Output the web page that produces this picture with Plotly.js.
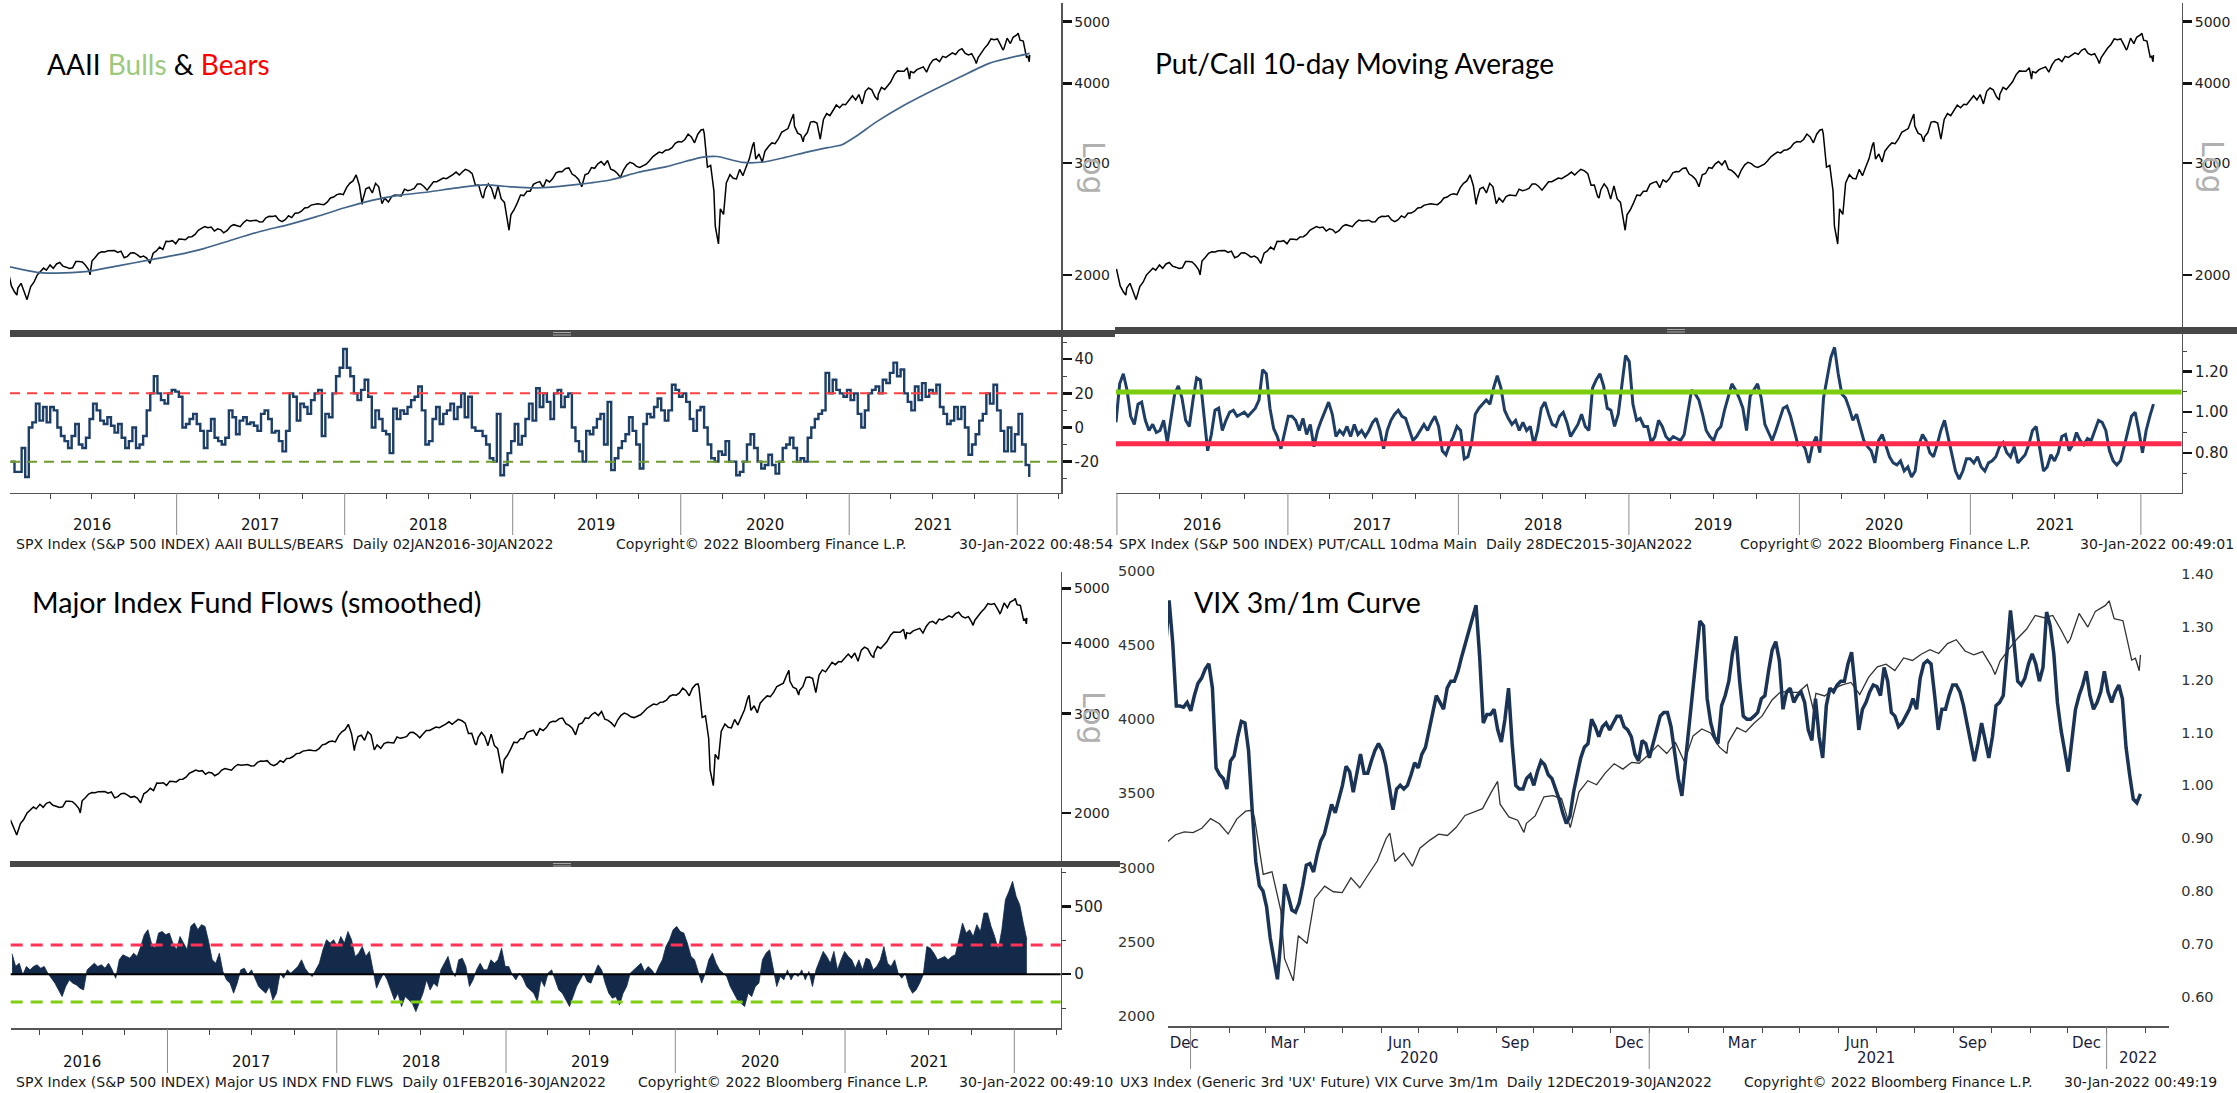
<!DOCTYPE html>
<html><head><meta charset="utf-8">
<script src="https://cdn.plot.ly/plotly-3.0.1.min.js"></script>
<style>html,body{margin:0;padding:0;background:#fff}#chart{width:2237px;height:1093px}</style>
</head><body><div id="chart"></div>
<script>
// ---------- DATA ----------
const spxDates = [
'2015-12-31','2016-01-08','2016-01-15','2016-01-20','2016-01-22','2016-01-29','2016-02-05','2016-02-11','2016-02-19','2016-02-26','2016-03-04','2016-03-11','2016-03-18','2016-03-24','2016-04-01','2016-04-08','2016-04-15','2016-04-22','2016-04-29','2016-05-06','2016-05-13','2016-05-20','2016-05-27','2016-06-03','2016-06-10','2016-06-17','2016-06-24','2016-06-27','2016-07-01','2016-07-08','2016-07-15','2016-07-22','2016-07-29','2016-08-05','2016-08-12','2016-08-19','2016-08-26','2016-09-02','2016-09-09','2016-09-16','2016-09-23','2016-09-30','2016-10-07','2016-10-14','2016-10-21','2016-10-28','2016-11-04','2016-11-11','2016-11-18','2016-11-25','2016-12-02','2016-12-09','2016-12-16','2016-12-23','2016-12-30',
'2017-01-06','2017-01-13','2017-01-20','2017-01-27','2017-02-03','2017-02-10','2017-02-17','2017-02-24','2017-03-03','2017-03-10','2017-03-17','2017-03-24','2017-03-31','2017-04-07','2017-04-13','2017-04-21','2017-04-28','2017-05-05','2017-05-12','2017-05-19','2017-05-26','2017-06-02','2017-06-09','2017-06-16','2017-06-23','2017-06-30','2017-07-07','2017-07-14','2017-07-21','2017-07-28','2017-08-04','2017-08-11','2017-08-18','2017-08-25','2017-09-01','2017-09-08','2017-09-15','2017-09-22','2017-09-29','2017-10-06','2017-10-13','2017-10-20','2017-10-27','2017-11-03','2017-11-10','2017-11-17','2017-11-24','2017-12-01','2017-12-08','2017-12-15','2017-12-22','2017-12-29',
'2018-01-05','2018-01-12','2018-01-19','2018-01-26','2018-02-02','2018-02-08','2018-02-09','2018-02-16','2018-02-23','2018-03-02','2018-03-09','2018-03-16','2018-03-23','2018-03-29','2018-04-06','2018-04-13','2018-04-20','2018-04-27','2018-05-04','2018-05-11','2018-05-18','2018-05-25','2018-06-01','2018-06-08','2018-06-15','2018-06-22','2018-06-29','2018-07-06','2018-07-13','2018-07-20','2018-07-27','2018-08-03','2018-08-10','2018-08-17','2018-08-24','2018-08-31','2018-09-07','2018-09-14','2018-09-20','2018-09-28','2018-10-05','2018-10-12','2018-10-19','2018-10-26','2018-10-29','2018-11-02','2018-11-09','2018-11-16','2018-11-23','2018-11-30','2018-12-07','2018-12-14','2018-12-21','2018-12-24','2018-12-28',
'2019-01-04','2019-01-11','2019-01-18','2019-01-25','2019-02-01','2019-02-08','2019-02-15','2019-02-22','2019-03-01','2019-03-08','2019-03-15','2019-03-22','2019-03-29','2019-04-05','2019-04-12','2019-04-18','2019-04-26','2019-05-03','2019-05-10','2019-05-17','2019-05-24','2019-05-31','2019-06-07','2019-06-14','2019-06-21','2019-06-28','2019-07-05','2019-07-12','2019-07-19','2019-07-26','2019-08-02','2019-08-09','2019-08-16','2019-08-23','2019-08-30','2019-09-06','2019-09-13','2019-09-20','2019-09-27','2019-10-04','2019-10-11','2019-10-18','2019-10-25','2019-11-01','2019-11-08','2019-11-15','2019-11-22','2019-11-29','2019-12-06','2019-12-13','2019-12-20','2019-12-27',
'2020-01-03','2020-01-10','2020-01-17','2020-01-24','2020-01-31','2020-02-07','2020-02-14','2020-02-19','2020-02-21','2020-02-28','2020-03-06','2020-03-13','2020-03-16','2020-03-20','2020-03-23','2020-03-27','2020-04-03','2020-04-09','2020-04-17','2020-04-24','2020-05-01','2020-05-08','2020-05-15','2020-05-22','2020-05-29','2020-06-05','2020-06-08','2020-06-12','2020-06-19','2020-06-26','2020-07-02','2020-07-10','2020-07-17','2020-07-24','2020-07-31','2020-08-07','2020-08-14','2020-08-21','2020-08-28','2020-09-02','2020-09-04','2020-09-11','2020-09-18','2020-09-23','2020-09-25','2020-10-02','2020-10-09','2020-10-16','2020-10-23','2020-10-30','2020-11-06','2020-11-13','2020-11-20','2020-11-27','2020-12-04','2020-12-11','2020-12-18','2020-12-24','2020-12-31',
'2021-01-08','2021-01-15','2021-01-22','2021-01-29','2021-02-05','2021-02-12','2021-02-19','2021-02-26','2021-03-04','2021-03-05','2021-03-12','2021-03-19','2021-03-26','2021-04-01','2021-04-09','2021-04-16','2021-04-23','2021-04-30','2021-05-07','2021-05-12','2021-05-14','2021-05-21','2021-05-28','2021-06-04','2021-06-11','2021-06-18','2021-06-25','2021-07-02','2021-07-09','2021-07-16','2021-07-23','2021-07-30','2021-08-06','2021-08-13','2021-08-20','2021-08-27','2021-09-03','2021-09-10','2021-09-17','2021-09-24','2021-10-01','2021-10-04','2021-10-08','2021-10-15','2021-10-22','2021-10-29','2021-11-05','2021-11-12','2021-11-19','2021-11-26','2021-12-01','2021-12-03','2021-12-10','2021-12-17','2021-12-23','2021-12-31',
'2022-01-03','2022-01-07','2022-01-14','2022-01-21','2022-01-24','2022-01-27','2022-01-28'];
const spxClose = [
2044,1922,1880,1859,1907,1940,1880,1829,1917,1948,1999,2022,2050,2035,2073,2048,2081,2092,2065,2057,2047,2052,2099,2099,2096,2071,2037,2001,2103,2130,2162,2175,2174,2183,2184,2184,2169,2180,2128,2139,2165,2168,2153,2133,2141,2126,2085,2164,2182,2213,2192,2260,2258,2264,2239,
2277,2275,2271,2295,2297,2316,2351,2367,2383,2373,2378,2344,2363,2355,2329,2349,2384,2399,2391,2382,2416,2439,2432,2433,2438,2423,2425,2459,2473,2472,2477,2441,2426,2443,2477,2461,2500,2502,2519,2549,2553,2575,2581,2588,2582,2579,2602,2642,2651,2675,2683,2674,
2743,2786,2810,2873,2762,2581,2620,2732,2747,2691,2786,2752,2588,2641,2604,2656,2670,2670,2663,2728,2713,2721,2735,2779,2780,2755,2718,2760,2801,2802,2819,2840,2833,2850,2875,2902,2872,2905,2931,2914,2886,2767,2768,2658,2641,2723,2781,2736,2633,2760,2633,2600,2417,2351,2486,
2532,2596,2671,2665,2707,2708,2776,2793,2804,2743,2822,2800,2834,2893,2907,2905,2940,2946,2881,2860,2826,2752,2873,2887,2950,2942,2990,3014,2977,3026,2932,2919,2889,2847,2926,2979,3007,2992,2962,2952,2970,2986,3023,3067,3093,3120,3110,3141,3146,3169,3221,3240,
3235,3265,3330,3295,3226,3328,3380,3386,3338,2954,2972,2711,2386,2305,2237,2541,2489,2790,2875,2837,2831,2930,2864,2955,3044,3194,3232,3041,3098,3009,3130,3185,3225,3216,3271,3351,3373,3397,3508,3580,3427,3341,3319,3237,3298,3348,3477,3484,3465,3270,3510,3585,3558,3638,3699,3663,3709,3703,3756,
3825,3768,3841,3714,3887,3934,3907,3811,3768,3842,3943,3913,3975,4020,4129,4185,4180,4181,4233,4063,4174,4156,4204,4230,4247,4166,4281,4352,4370,4327,4412,4395,4437,4468,4442,4509,4535,4459,4433,4455,4357,4300,4391,4471,4545,4605,4698,4683,4698,4595,4513,4538,4712,4620,4726,4766,
4797,4677,4663,4398,4410,4326,4432];

const maDates = ['2016-01-04','2016-02-15','2016-03-15','2016-05-01','2016-06-30','2016-09-01','2016-11-01','2017-01-01','2017-03-01','2017-05-01','2017-07-01','2017-09-01','2017-11-01','2018-01-01','2018-03-01','2018-05-01','2018-07-01','2018-09-01','2018-11-01','2018-12-31','2019-02-15','2019-04-01','2019-06-01','2019-08-01','2019-10-01','2019-12-01','2020-02-15','2020-03-20','2020-05-15','2020-06-30','2020-08-15','2020-10-01','2020-11-15','2020-12-15','2021-01-15','2021-03-01','2021-05-01','2021-07-01','2021-09-01','2021-11-01','2022-01-28'];
const maValues = [2060,2030,2015,2015,2030,2070,2110,2150,2200,2270,2340,2400,2470,2550,2620,2670,2700,2740,2770,2750,2740,2750,2780,2820,2900,2960,3060,3070,3005,3010,3060,3120,3170,3200,3300,3480,3700,3900,4100,4300,4460];

const aaiiStart = '2016-01-07', aaiiEnd = '2022-01-27';
const aaiiSpread = [-20,-26,-26,-12,-29,0,3,14,4,12,3,12,10,0,-5,-8,-12,-5,2,-10,-12,-6,5,14,10,4,2,6,1,-3,2,-6,-12,-8,0,-12,-10,-5,10,20,30,20,16,14,20,22,21,18,0,2,5,8,2,-2,-12,-2,5,-6,-8,-10,-6,10,6,-4,4,6,2,3,1,-2,8,10,5,-3,-2,-8,-14,-2,20,18,4,14,12,8,16,20,22,-5,8,6,20,30,35,46,35,30,20,16,22,28,18,0,10,5,-2,-4,-15,11,5,10,8,12,16,18,24,10,-10,-8,5,12,2,8,10,14,5,12,20,6,18,0,-2,-2,-5,-10,-18,-20,8,-28,-22,-15,-8,2,-10,-5,5,14,4,23,12,20,15,5,20,22,12,18,20,0,-8,-14,-20,-2,-4,0,5,8,-10,15,-25,-18,-12,-8,-4,6,-2,-10,-24,2,8,6,12,17,10,4,10,25,22,18,20,15,5,-2,10,12,0,-10,-18,-20,-14,-16,-8,-20,-20,-28,-26,-20,-10,-4,-12,-20,-24,-22,-16,-22,-27,-20,-12,-10,-6,-12,-20,-18,-20,-6,0,5,8,10,32,20,28,22,20,18,22,16,20,8,0,10,20,22,24,20,28,26,32,38,30,34,20,15,10,24,16,26,18,22,20,25,12,8,2,4,12,5,12,0,-16,-10,-4,4,8,20,14,25,10,-2,-14,0,-14,-4,8,-10,-22,-29];
const aaiiUpper = 20, aaiiLower = -20;

const pcStart = '2015-12-30', pcEnd = '2022-01-28';
const putCall10d = [0.95,1.14,1.19,1.11,0.98,0.94,1.04,1.05,0.96,0.91,0.94,0.90,0.91,0.96,0.85,0.98,1.09,1.13,1.07,0.96,0.93,1.06,1.17,1.16,0.98,0.81,0.89,1.01,1.02,0.91,0.96,1.00,1.01,0.98,0.99,1.00,0.98,1.00,1.02,1.06,1.21,1.19,1.02,0.92,0.88,0.82,0.90,0.98,0.98,0.96,0.91,0.97,0.89,0.94,0.83,0.91,0.96,1.01,1.05,0.99,0.88,0.91,0.89,0.93,0.88,0.94,0.89,0.91,0.88,0.91,0.95,0.97,0.91,0.82,0.91,0.96,0.99,1.01,0.98,0.97,0.91,0.86,0.88,0.91,0.94,0.91,0.95,0.98,0.93,0.81,0.79,0.84,0.88,0.93,0.91,0.77,0.78,0.85,0.99,1.02,1.04,1.06,1.04,1.12,1.18,1.12,1.01,0.97,0.94,0.96,0.91,0.95,0.91,0.93,0.84,0.91,1.02,1.05,0.99,0.94,0.93,0.98,1.00,0.95,0.88,0.91,0.94,0.99,0.93,0.91,1.12,1.16,1.19,1.13,1.02,1.01,0.93,0.99,1.13,1.28,1.25,1.04,0.96,0.97,0.93,0.93,0.85,0.88,0.96,0.93,0.88,0.86,0.88,0.87,0.86,0.89,0.99,1.11,1.09,1.06,0.99,0.91,0.88,0.86,0.91,0.93,1.01,1.07,1.14,1.11,1.07,1.02,0.91,1.08,1.11,1.14,1.07,0.94,0.90,0.86,0.91,0.96,1.02,1.03,0.98,0.91,0.84,0.85,0.82,0.75,0.84,0.88,0.80,1.07,1.17,1.27,1.32,1.19,1.09,1.07,1.02,0.96,0.99,0.93,0.86,0.83,0.81,0.75,0.86,0.89,0.84,0.78,0.75,0.74,0.76,0.71,0.73,0.68,0.71,0.84,0.89,0.86,0.80,0.78,0.84,0.91,0.96,0.88,0.80,0.71,0.67,0.71,0.77,0.77,0.75,0.78,0.73,0.71,0.75,0.76,0.78,0.83,0.85,0.80,0.78,0.83,0.75,0.77,0.79,0.84,0.91,0.93,0.81,0.71,0.73,0.79,0.76,0.80,0.88,0.89,0.81,0.84,0.90,0.86,0.84,0.87,0.86,0.91,0.96,0.95,0.91,0.81,0.76,0.74,0.76,0.83,0.91,0.98,1.00,0.91,0.80,0.91,0.98,1.04];
const pcUpper = 1.10, pcLower = 0.845;

const flowStart = '2016-02-01', flowEnd = '2022-01-28';
const fundFlows = [150,57,81,-5,57,32,57,69,44,57,7,-30,-66,-116,-165,-91,-42,-66,-79,-103,-116,32,57,81,57,69,44,81,32,-30,106,143,131,118,155,131,204,291,328,229,192,303,315,291,303,229,180,278,229,180,352,377,328,365,352,241,106,81,155,20,-42,-66,-140,-66,32,44,-5,32,-30,-91,-116,-140,-91,-190,-140,7,-30,32,7,32,57,106,44,7,-17,32,81,180,254,229,254,204,278,229,315,254,131,155,204,131,168,32,-103,-42,7,-42,-116,-190,-140,-239,-165,-190,-214,-276,-214,-140,-42,-116,-66,-91,32,81,131,32,-17,106,118,57,-91,-42,32,81,32,32,106,81,106,192,57,57,-5,-42,7,-30,-91,-116,-140,-202,-42,-91,7,32,-42,-116,-140,-190,-239,-165,-91,-42,7,-54,-66,7,69,32,-66,-140,-177,-165,-227,-140,-91,7,32,57,81,20,57,32,-5,57,106,204,254,328,352,315,303,229,131,106,20,-66,7,106,155,81,32,7,-17,-91,-140,-190,-214,-239,-140,-165,-91,-66,106,155,180,32,-91,-17,-42,32,-42,7,-17,32,-42,20,-91,32,106,168,131,81,168,32,106,168,131,106,44,106,32,118,106,32,57,106,204,81,57,106,7,-30,7,-91,-140,-116,-66,-5,204,192,155,106,118,131,106,131,143,254,377,303,328,278,365,315,451,451,352,278,180,328,549,611,685,574,512,377,254];
const flowUpper = 215, flowLower = -205;

const vixStart = '2019-12-12', vixEnd = '2022-01-28';
const vixCurve = [1.26,1.35,1.27,1.15,1.15,1.148,1.157,1.141,1.17,1.193,1.203,1.22,1.23,1.184,1.033,1.02,1.013,0.993,1.046,1.056,1.092,1.121,1.118,1.066,0.954,0.856,0.81,0.8,0.77,0.711,0.672,0.633,0.711,0.813,0.79,0.764,0.76,0.777,0.81,0.849,0.852,0.836,0.869,0.895,0.908,0.934,0.964,0.948,0.974,1.0,1.036,1.026,0.987,1.026,1.059,1.023,1.023,1.046,1.066,1.079,1.066,1.039,1.0,0.954,0.993,1.0,0.993,1.0,1.02,1.043,1.033,1.059,1.072,1.105,1.144,1.17,1.157,1.144,1.184,1.197,1.197,1.216,1.243,1.269,1.295,1.315,1.341,1.243,1.118,1.134,1.134,1.144,1.105,1.082,1.125,1.184,1.079,1.0,0.993,0.993,1.013,1.02,1.0,1.026,1.046,1.039,1.02,1.013,0.993,0.974,0.948,0.928,0.941,0.987,1.02,1.052,1.072,1.079,1.125,1.111,1.092,1.111,1.118,1.105,1.118,1.131,1.131,1.111,1.105,1.092,1.059,1.046,1.085,1.079,1.052,1.079,1.105,1.131,1.138,1.138,1.111,1.059,1.013,0.98,1.046,1.105,1.184,1.249,1.311,1.302,1.164,1.118,1.092,1.079,1.151,1.17,1.197,1.249,1.282,1.197,1.131,1.125,1.125,1.131,1.138,1.164,1.17,1.216,1.256,1.272,1.236,1.144,1.177,1.184,1.157,1.17,1.177,1.157,1.105,1.085,1.164,1.092,1.052,1.151,1.184,1.177,1.19,1.197,1.197,1.23,1.252,1.184,1.105,1.144,1.157,1.177,1.19,1.187,1.17,1.223,1.197,1.138,1.131,1.111,1.118,1.131,1.144,1.164,1.144,1.203,1.23,1.236,1.23,1.17,1.105,1.144,1.144,1.17,1.19,1.19,1.177,1.151,1.118,1.079,1.046,1.079,1.118,1.085,1.052,1.092,1.151,1.157,1.17,1.249,1.331,1.269,1.197,1.19,1.203,1.23,1.249,1.23,1.197,1.223,1.328,1.302,1.249,1.157,1.105,1.066,1.026,1.085,1.144,1.17,1.19,1.216,1.17,1.144,1.157,1.177,1.216,1.177,1.157,1.177,1.19,1.164,1.072,1.02,0.974,0.967,0.984];

const yearStarts = ['2016-01-01','2017-01-01','2018-01-01','2019-01-01','2020-01-01','2021-01-01','2022-01-01'];
const yearLabelDates = ['2016-07-01','2017-07-01','2018-07-01','2019-07-01','2020-07-01','2021-07-01'];
const yearLabels = ['2016','2017','2018','2019','2020','2021'];
const spxTicks = [2000,3000,4000,5000];
const vixMonthTickVals = ['2019-12-27','2020-03-16','2020-06-16','2020-09-16','2020-12-16','2021-03-16','2021-06-16','2021-09-16','2021-12-16'];
const vixMonthTickText = ['Dec','Mar','Jun','Sep','Dec','Mar','Jun','Sep','Dec'];
const vixYearLabelDates = ['2020-07-01','2021-07-01','2022-01-26'];
const vixYearLabels = ['2020','2021','2022'];
const vixLeftTicks = [2000,2500,3000,3500,4000,4500,5000];
const vixRightTicks = [0.6,0.7,0.8,0.9,1.0,1.1,1.2,1.3,1.4];

// ---------- HELPERS ----------
const W = 2237, H = 1093;
const X = p => p / W;
const Y = p => 1 - p / H;
function evenDates(s, e, n) {
  const a = Date.parse(s + 'T00:00:00Z'), b = Date.parse(e + 'T00:00:00Z'), out = [];
  for (let i = 0; i < n; i++) out.push(new Date(a + (b - a) * i / (n - 1)).toISOString().slice(0, 16).replace('T', ' '));
  return out;
}
const FAM = 'DejaVu Sans, Verdana, sans-serif';
const TICKF = {family: FAM, size: 14, color: '#222'};
const AXC = '#555';

// ---------- TRACES ----------
const spxLine = {type: 'scatter', mode: 'lines', x: spxDates, y: spxClose, line: {color: '#000', width: 1.5}, hoverinfo: 'skip'};
const traces = [
  Object.assign({}, spxLine, {xaxis: 'x', yaxis: 'y'}),
  {type: 'scatter', mode: 'lines', x: maDates, y: maValues, xaxis: 'x', yaxis: 'y', line: {color: '#43658a', width: 1.7, shape: 'spline', smoothing: 0.6}},
  {type: 'scatter', mode: 'lines', x: evenDates(aaiiStart, aaiiEnd, aaiiSpread.length), y: aaiiSpread, xaxis: 'x', yaxis: 'y2', line: {color: '#1d3e66', width: 2.4, shape: 'hv'}},
  Object.assign({}, spxLine, {xaxis: 'x2', yaxis: 'y3'}),
  {type: 'scatter', mode: 'lines', x: evenDates(pcStart, pcEnd, putCall10d.length), y: putCall10d, xaxis: 'x2', yaxis: 'y4', line: {color: '#1f3e66', width: 3}},
  Object.assign({}, spxLine, {xaxis: 'x3', yaxis: 'y5'}),
  {type: 'scatter', mode: 'lines', x: evenDates(flowStart, flowEnd, fundFlows.length), y: fundFlows, xaxis: 'x3', yaxis: 'y6', fill: 'tozeroy', fillcolor: '#132a4a', line: {color: '#132a4a', width: 0.8}},
  {type: 'scatter', mode: 'lines', x: spxDates, y: spxClose, xaxis: 'x4', yaxis: 'y7', line: {color: '#333', width: 1.3}},
  {type: 'scatter', mode: 'lines', x: evenDates(vixStart, vixEnd, vixCurve.length), y: vixCurve, xaxis: 'x4', yaxis: 'y8', line: {color: '#1b3455', width: 3.5}}
];

// ---------- AXES ----------
function yearAxis(dom, range, anchor) {
  return {domain: dom, range: range, type: 'date', anchor: anchor, showline: true, linecolor: AXC, linewidth: 1.5,
    ticks: '', showticklabels: false, showgrid: false, zeroline: false, fixedrange: true,
    minor: {dtick: 'M3', tick0: '2016-01-01', ticks: 'outside', ticklen: 5, tickwidth: 1, tickcolor: '#444', showgrid: false}};
}
function logAxis(dom, anchor) {
  return {domain: dom, type: 'log', range: [3.2145, 3.7284], side: 'right', anchor: anchor, showline: true, linecolor: AXC, linewidth: 1.5,
    tickmode: 'array', tickvals: spxTicks, ticktext: spxTicks.map(String), ticks: 'outside', ticklen: 9, tickwidth: 2.5, tickcolor: '#111',
    tickfont: TICKF, showgrid: false, zeroline: false, fixedrange: true};
}
function indAxis(dom, range, anchor, vals, texts, minorStep) {
  return {domain: dom, range: range, side: 'right', anchor: anchor, showline: true, linecolor: AXC, linewidth: 1.5,
    tickmode: 'array', tickvals: vals, ticktext: texts, ticks: 'outside', ticklen: 9, tickwidth: 2.5, tickcolor: '#111',
    tickfont: {family: FAM, size: 15, color: '#222'}, showgrid: false, zeroline: false, fixedrange: true,
    minor: {dtick: minorStep, tick0: 0, ticks: 'outside', ticklen: 4, tickwidth: 1, tickcolor: '#444', showgrid: false}};
}

const layout = {
  width: W, height: H, margin: {l: 0, r: 0, t: 0, b: 0}, paper_bgcolor: '#fff', plot_bgcolor: 'rgba(0,0,0,0)', showlegend: false,
  xaxis: yearAxis([X(10), X(1061)], ['2016-01-05', '2022-04-06'], 'y2'),
  yaxis: logAxis([Y(330), Y(3)], 'x'),
  yaxis2: indAxis([Y(492.7), Y(337)], [-38.2, 53], 'x', [-20, 0, 20, 40], ['-20', '0', '20', '40'], 10),
  xaxis2: yearAxis([X(1116), X(2181.5)], ['2015-12-30', '2022-03-29'], 'y4'),
  yaxis3: logAxis([Y(330), Y(3)], 'x2'),
  yaxis4: indAxis([Y(492.7), Y(334)], [0.603, 1.386], 'x2', [0.8, 1.0, 1.2], ['0.80', '1.00', '1.20'], 0.1),
  xaxis3: yearAxis([X(10.7), X(1060.7)], ['2016-01-29', '2022-04-11'], 'y6'),
  yaxis5: logAxis([Y(862), Y(571.7)], 'x3'),
  yaxis6: indAxis([Y(1028.3), Y(868)], [-399, 783], 'x3', [0, 500], ['0', '500'], 250),
  xaxis4: {domain: [X(1168), X(2169.3)], range: ['2019-12-14', '2022-02-20'], type: 'date', anchor: 'y7', showline: true, linecolor: AXC, linewidth: 1.5,
    tickmode: 'array', tickvals: vixMonthTickVals, ticktext: vixMonthTickText, ticks: '', ticklabelstandoff: 2,
    tickfont: {family: FAM, size: 15, color: '#1d1d3a'}, showgrid: false, zeroline: false, fixedrange: true,
    minor: {dtick: 'M1', tick0: '2019-12-01', ticks: 'outside', ticklen: 5, tickwidth: 1, tickcolor: '#444', showgrid: false}},
  yaxis7: {domain: [Y(1026), Y(553)], range: [1932.6, 5119], side: 'left', anchor: 'x4', showline: false, ticks: '',
    tickmode: 'array', tickvals: vixLeftTicks, ticktext: vixLeftTicks.map(String), ticklabelstandoff: 12,
    tickfont: {family: FAM, size: 14.5, color: '#333'}, showgrid: false, zeroline: false, fixedrange: true},
  yaxis8: {overlaying: 'y7', range: [0.5446, 1.4397], side: 'right', anchor: 'x4', showline: false, ticks: '',
    tickmode: 'array', tickvals: vixRightTicks, ticktext: vixRightTicks.map(v => v.toFixed(2)), ticklabelstandoff: 11,
    tickfont: {family: FAM, size: 14.5, color: '#333'}, showgrid: false, zeroline: false, fixedrange: true},
  shapes: [], annotations: []
};

// ---------- SHAPES ----------
const S = layout.shapes;
function hline(xref, yref, y, color, width, dash) { S.push({type: 'line', xref: xref + ' domain', x0: 0, x1: 1, yref: yref, y0: y, y1: y, line: {color: color, width: width, dash: dash}}); }
hline('x', 'y2', aaiiUpper, '#ff4040', 2, '10px,7px');
hline('x', 'y2', aaiiLower, '#6f9a2c', 2, '10px,7px');
hline('x2', 'y4', pcUpper, '#7ccd10', 5, 'solid');
hline('x2', 'y4', pcLower, '#ff2a4c', 5, 'solid');
hline('x3', 'y6', flowUpper, '#ff3355', 3, '12px,8px');
hline('x3', 'y6', flowLower, '#80cf12', 3, '12px,8px');
hline('x3', 'y6', 0, '#000', 2, 'solid');

function yearSeps(xref, range, yTop, yBot, list) {
  list.forEach(d => { if (d > range[0] && d < range[1]) S.push({type: 'line', xref: xref, x0: d, x1: d, yref: 'paper', y0: Y(yTop), y1: Y(yBot), line: {color: '#8a8a8a', width: 1}}); });
}
yearSeps('x', layout.xaxis.range, 493, 535, yearStarts);
yearSeps('x2', layout.xaxis2.range, 493, 535, yearStarts);
yearSeps('x3', layout.xaxis3.range, 1029, 1073, yearStarts);
yearSeps('x4', layout.xaxis4.range, 1027, 1069, yearStarts);

function divider(x0, x1, y0, y1, gx) {
  S.push({type: 'rect', xref: 'paper', yref: 'paper', x0: X(x0), x1: X(x1), y0: Y(y1), y1: Y(y0), fillcolor: '#474747', line: {width: 0}});
  S.push({type: 'rect', xref: 'paper', yref: 'paper', x0: X(gx - 9), x1: X(gx + 9), y0: Y(y0 + 2), y1: Y(y0 + 3), fillcolor: '#a8a8a8', line: {width: 0}});
  S.push({type: 'rect', xref: 'paper', yref: 'paper', x0: X(gx - 9), x1: X(gx + 9), y0: Y(y0 + 4.5), y1: Y(y0 + 5.5), fillcolor: '#a8a8a8', line: {width: 0}});
}
divider(10, 1115, 330, 337, 562);
divider(1115, 2237, 327, 334, 1676);
divider(10, 1120, 861, 867, 562);

// ---------- ANNOTATIONS ----------
const A = layout.annotations;
const TITLEF = {family: 'Lato, Liberation Sans, sans-serif', size: 28, color: '#000'};
function note(x, y, text, font, extra) { A.push(Object.assign({xref: 'paper', yref: 'paper', x: X(x), y: Y(y), text: text, showarrow: false, xanchor: 'left', yanchor: 'middle', font: font}, extra || {})); }
note(45, 64, 'AAII <span style="color:#9cc97e">Bulls</span> &amp; <span style="color:#ff0000">Bears</span>', TITLEF);
note(1153, 63, 'Put/Call 10-day Moving Average', TITLEF);
note(30, 602, 'Major Index Fund Flows (smoothed)', Object.assign({}, TITLEF, {size: 28.7}));
note(1192, 602, 'VIX 3m/1m Curve', Object.assign({}, TITLEF, {size: 28.4}));

const LOGF = {family: FAM, size: 30, color: '#b0b0b0'};
note(1093, 168, 'Log', LOGF, {textangle: 90, xanchor: 'center'});
note(2212, 167, 'Log', LOGF, {textangle: 90, xanchor: 'center'});
note(1093, 718, 'Log', LOGF, {textangle: 90, xanchor: 'center'});

// year labels for the three long-range panels
function yearLabelsFor(xref, range, y) {
  yearLabelDates.forEach((d, i) => { if (d > range[0] && d < range[1]) A.push({xref: xref, yref: 'paper', x: d, y: Y(y), text: yearLabels[i], showarrow: false, xanchor: 'center', yanchor: 'middle', font: {family: FAM, size: 15, color: '#111'}}); });
}
yearLabelsFor('x', layout.xaxis.range, 525);
yearLabelsFor('x2', layout.xaxis2.range, 525);
yearLabelsFor('x3', layout.xaxis3.range, 1062);

const FOOTF = {family: FAM, size: 14.1, color: '#1a1a1a'};
const NB = '\u00a0';
note(14, 544, 'SPX Index (S&amp;P 500 INDEX) AAII BULLS/BEARS' + NB + NB + 'Daily 02JAN2016-30JAN2022', FOOTF);
note(614, 544, 'Copyright© 2022 Bloomberg Finance L.P.', FOOTF);
note(957, 544, '30-Jan-2022 00:48:54', FOOTF);
note(1117, 544, 'SPX Index (S&amp;P 500 INDEX) PUT/CALL 10dma Main' + NB + NB + 'Daily 28DEC2015-30JAN2022', FOOTF);
note(1738, 544, 'Copyright© 2022 Bloomberg Finance L.P.', FOOTF);
note(2078, 544, '30-Jan-2022 00:49:01', FOOTF);
note(14, 1081.7, 'SPX Index (S&amp;P 500 INDEX) Major US INDX FND FLWS' + NB + NB + 'Daily 01FEB2016-30JAN2022', FOOTF);
note(636, 1081.7, 'Copyright© 2022 Bloomberg Finance L.P.', FOOTF);
note(957, 1081.7, '30-Jan-2022 00:49:10', FOOTF);
const FOOTF2 = Object.assign({}, FOOTF, {size: 14});
note(1118, 1081.7, "UX3 Index (Generic 3rd 'UX' Future) VIX Curve 3m/1m" + NB + NB + 'Daily 12DEC2019-30JAN2022', FOOTF2);
note(1742, 1081.7, 'Copyright© 2022 Bloomberg Finance L.P.', FOOTF2);
note(2062, 1081.7, '30-Jan-2022 00:49:19', FOOTF2);

vixYearLabelDates.forEach((d, i) => A.push({xref: 'x4', yref: 'paper', x: d, y: Y(1058.3), text: vixYearLabels[i], showarrow: false, xanchor: 'center', yanchor: 'middle', font: {family: FAM, size: 15, color: '#1d1d3a'}}));

Plotly.newPlot('chart', traces, layout, {displayModeBar: false, staticPlot: true});
</script>
</body></html>
